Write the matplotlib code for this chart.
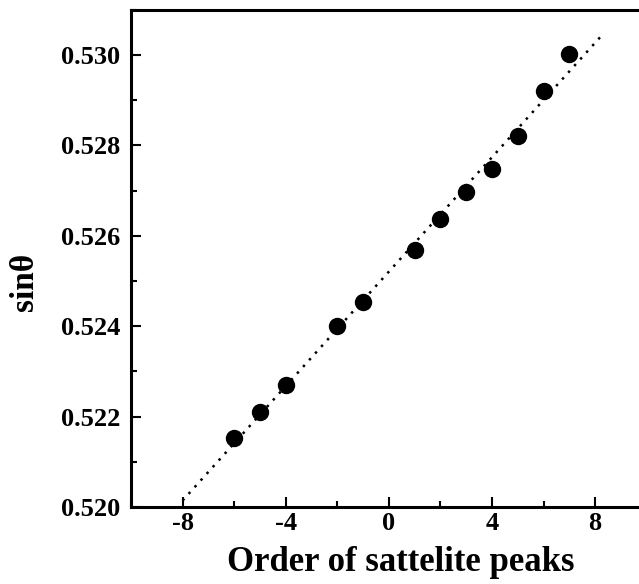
import numpy as np
import matplotlib.pyplot as plt
from matplotlib.ticker import MultipleLocator

# satellite peak order vs. sin(theta)
order = [-6, -5, -4, -2, -1, 1, 2, 3, 4, 5, 6, 7]
sin_theta = [0.52153, 0.52211, 0.52269, 0.52400, 0.52453, 0.52569,
             0.52638, 0.52698, 0.52749, 0.52820, 0.52920, 0.53002]

# extent of the fitted line
fit_x = [-8.0, 8.35]

plt.rcParams['font.family'] = ['Liberation Serif', 'DejaVu Serif']
plt.rcParams['font.weight'] = 'bold'
plt.rcParams['axes.unicode_minus'] = False

fig = plt.figure(figsize=(6.39, 5.84), dpi=100)
ax = fig.add_axes([0.205, 0.132, 0.795, 0.851])

slope, intercept = np.polyfit(order, sin_theta, 1)
xs = np.array(fit_x)
ax.plot(xs, slope * xs + intercept, color='black', lw=1.8, linestyle=(0, (1, 2.6)))
ax.plot(order, sin_theta, 'o', color='black', markersize=11.5)

ax.set_xlim(-10, 9.7)
ax.set_ylim(0.520, 0.531)
ax.xaxis.set_major_locator(MultipleLocator(4))
ax.xaxis.set_minor_locator(MultipleLocator(2))
ax.yaxis.set_major_locator(MultipleLocator(0.002))
ax.yaxis.set_minor_locator(MultipleLocator(0.001))
ax.yaxis.set_major_formatter(plt.FormatStrFormatter('%.3f'))

ax.tick_params(which='both', direction='in', width=1.5, labelsize=19)
ax.tick_params(axis='y', pad=8)
ax.tick_params(axis='x', pad=4)
ax.tick_params(which='major', length=7)
ax.tick_params(which='minor', length=4)
for side in ['left', 'top', 'bottom']:
    ax.spines[side].set_linewidth(2.2)
ax.spines['right'].set_visible(False)

ax.set_xlabel('Order of sattelite peaks', fontsize=25, fontweight='bold')
ax.set_ylabel('sinθ', fontsize=24, fontweight='bold')
ax.yaxis.set_label_coords(-0.18, 0.453)
ax.xaxis.set_label_coords(0.531, -0.078)

fig.savefig('out.png', dpi=100)
